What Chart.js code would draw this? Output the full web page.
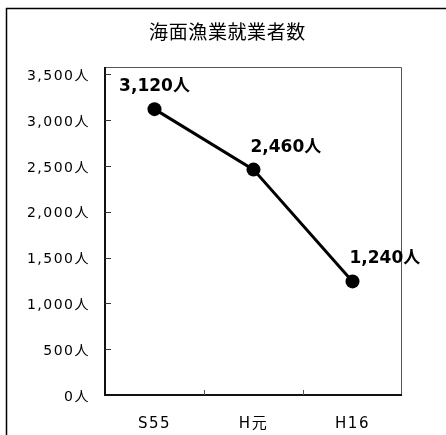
<!DOCTYPE html>
<html>
<head>
<meta charset="utf-8">
<script src="https://cdn.jsdelivr.net/npm/chart.js@4"></script>
<style>
  html, body { margin: 0; padding: 0; background: #fff; }
  #wrap { width: 446px; height: 435px; position: relative; }
</style>
</head>
<body>
<div id="wrap"><canvas id="c" width="446" height="435"></canvas></div>
<script>
const titleText = '海面漁業就業者数';
const categories = ['S55', 'H元', 'H16'];
const workers = [3120, 2460, 1240];
const yTickValues = [0, 500, 1000, 1500, 2000, 2500, 3000, 3500];
const unit = '人';

const FONT = '"DejaVu Sans", "Noto Sans CJK JP", sans-serif';
const CJK = '"Noto Sans CJK JP", sans-serif';
const fmt = v => v.toLocaleString('en-US') + unit;

const framePlugin = {
  id: 'frame',
  beforeDraw(chart) {
    const ctx = chart.ctx;
    ctx.save();
    ctx.fillStyle = '#fff';
    ctx.fillRect(0, 0, chart.width, chart.height);
    ctx.strokeStyle = '#000';
    ctx.lineWidth = 1.5;
    ctx.strokeRect(6.5, 8.5, chart.width, chart.height);
    ctx.letterSpacing = '0.6px';
    ctx.fillStyle = '#000';
    ctx.font = '19px ' + CJK;
    ctx.textAlign = 'center';
    ctx.textBaseline = 'middle';
    ctx.fillText(titleText, (chart.width + 9) / 2, 32);
    ctx.restore();
    ctx.letterSpacing = '1.5px';
  },
  beforeDatasetsDraw(chart) {
    chart.ctx.letterSpacing = '0px';
  },
  afterDatasetsDraw(chart) {
    const ctx = chart.ctx, a = chart.chartArea;
    ctx.save();
    ctx.strokeStyle = '#555';
    ctx.lineWidth = 1;
    ctx.beginPath();
    ctx.moveTo(a.left, a.top + 0.5);
    ctx.lineTo(a.right - 0.5, a.top + 0.5);
    ctx.lineTo(a.right - 0.5, a.bottom);
    ctx.stroke();
    ctx.strokeStyle = '#111';
    ctx.lineWidth = 2;
    ctx.beginPath();
    ctx.moveTo(a.left, a.top);
    ctx.lineTo(a.left, a.bottom);
    ctx.lineTo(a.right, a.bottom);
    ctx.stroke();
    const xs = chart.scales.x;
    ctx.strokeStyle = '#555';
    ctx.lineWidth = 1;
    for (let i = 0; i < categories.length - 1; i++) {
      const x = Math.round((xs.getPixelForTick(i) + xs.getPixelForTick(i + 1)) / 2) + 0.5;
      ctx.beginPath();
      ctx.moveTo(x, a.bottom - 5);
      ctx.lineTo(x, a.bottom);
      ctx.stroke();
    }
    const ys = chart.scales.y;
    ctx.strokeStyle = '#333';
    yTickValues.forEach(v => {
      if (v === 0) return;
      const y = Math.round(ys.getPixelForValue(v)) + 0.5;
      ctx.beginPath();
      ctx.moveTo(a.left, y);
      ctx.lineTo(a.left + 6, y);
      ctx.stroke();
    });
    const meta = chart.getDatasetMeta(0);
    ctx.fillStyle = '#000';
    ctx.font = 'bold 17px ' + FONT;
    ctx.textBaseline = 'middle';
    meta.data.forEach((pt, i) => {
      const txt = fmt(workers[i]);
      if (i === 0) {
        ctx.textAlign = 'center';
        ctx.fillText(txt, pt.x, pt.y - 22.5);
      } else {
        ctx.textAlign = 'left';
        ctx.fillText(txt, pt.x - 3, pt.y - 22.5);
      }
    });
    ctx.restore();
  }
};

new Chart(document.getElementById('c'), {
  type: 'line',
  data: {
    labels: categories,
    datasets: [{
      data: workers,
      borderColor: '#000',
      backgroundColor: '#000',
      borderWidth: 3,
      pointRadius: 7,
      pointHoverRadius: 7,
      pointBackgroundColor: '#000',
      pointBorderWidth: 0,
      tension: 0
    }]
  },
  options: {
    responsive: false,
    animation: false,
    events: [],
    layout: { padding: { left: 0, right: 44, top: 67, bottom: 0 } },
    plugins: {
      legend: { display: false },
      tooltip: { enabled: false },
      title: { display: false }
    },
    scales: {
      x: {
        type: 'category',
        offset: true,
        z: 1,
        grid: { display: false, drawTicks: false },
        border: { display: false },
        ticks: { color: '#000', font: { family: FONT, size: 15 }, padding: 20, maxRotation: 0 },
        afterFit(s) { s.height = 40; }
      },
      y: {
        min: 0,
        max: 3580,
        grid: { display: false, drawTicks: false },
        border: { display: false },
        afterBuildTicks(s) { s.ticks = yTickValues.map(v => ({ value: v })); },
        ticks: {
          color: '#000',
          font: { family: FONT, size: 14 },
          padding: 15,
          labelOffset: 2,
          callback: v => fmt(v)
        },
        afterFit(s) { s.width = 105; }
      }
    }
  },
  plugins: [framePlugin]
});
</script>
</body>
</html>
